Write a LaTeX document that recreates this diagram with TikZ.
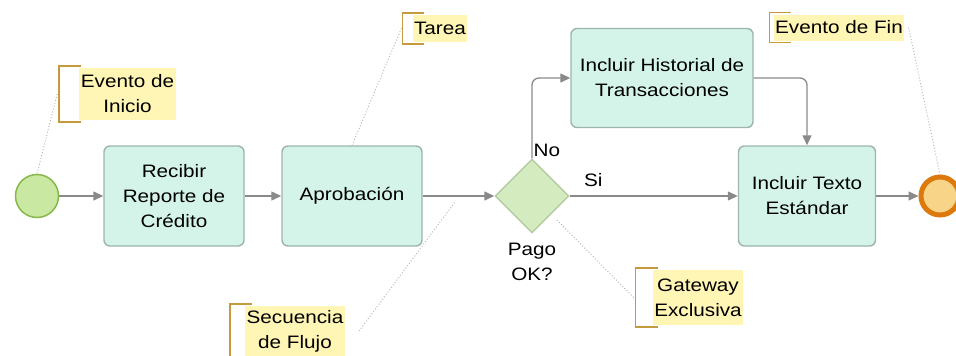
\documentclass[tikz,border=0pt]{standalone}
\usepackage{fontspec}
\setmainfont{Liberation Sans}[FakeStretch=1.15]
\usetikzlibrary{positioning,shapes.geometric,arrows.meta,calc}
\definecolor{taskfill}{HTML}{D4F4EA}
\definecolor{taskline}{HTML}{9DB5AC}
\definecolor{startfill}{HTML}{C9E8A2}
\definecolor{startline}{HTML}{86B94A}
\definecolor{gwfill}{HTML}{D3EBBE}
\definecolor{gwline}{HTML}{B3CCA3}
\definecolor{endline}{HTML}{DD7A0E}
\definecolor{endfill}{HTML}{F8D488}
\definecolor{notefill}{HTML}{FFF5B5}
\definecolor{noteline}{HTML}{C49A3C}
\definecolor{flowgray}{HTML}{8A8A8A}

\begin{document}
\begin{tikzpicture}[x=1pt,y=-1pt,on grid,font=\fontsize{18}{25}\selectfont,
  task/.style={draw=taskline,fill=taskfill,line width=1.4pt,rounded corners=6pt,
    minimum width=140pt,minimum height=100pt,align=center},
  startev/.style={circle,draw=startline,fill=startfill,line width=1.5pt,minimum size=43pt,inner sep=0pt},
  endev/.style={circle,draw=endline,fill=endfill,line width=5pt,minimum size=38pt,inner sep=0pt},
  gateway/.style={diamond,draw=gwline,fill=gwfill,line width=1.4pt,minimum size=74pt,inner sep=0pt},
  flow/.style={-{Triangle[length=10pt,width=9pt]},draw=flowgray,line width=1.3pt},
  note/.style={fill=notefill,align=center,inner xsep=1.5pt,inner ysep=3pt},
  bracket/.style={draw=noteline,line width=1.5pt},
  assoc/.style={draw=gray!55,dotted,line width=1pt},
  lbl/.style={inner sep=1pt}]
   \useasboundingbox (0,0) rectangle (956,356);

   \node[startev] (start) at (37,196) {};
   \node[task] (recibir) [right=137pt of start] {Recibir\\Reporte de\\Crédito};
   \node[task] (aprob) [right=178pt of recibir] {Aprobación};
   \node[gateway] (gw) [right=180pt of aprob] {};
   \node[task,minimum width=137pt] (texto) [right=275pt of gw] {Incluir Texto\\Estándar};
   \node[endev] (fin) [right=133pt of texto] {};
   \node[task,minimum width=182pt,minimum height=99pt] (hist) [above right=118pt and 130pt of gw] {Incluir Historial de\\Transacciones};
   \node[lbl,align=center] (pago) [below=66pt of gw] {Pago\\OK?};

   \draw[flow] (start) -- (recibir);
   \draw[flow] (recibir) -- (aprob);
   \draw[flow] (aprob) -- (gw);
   \draw[flow] (gw.east) -- node[lbl,pos=0.14,above=8pt] {Si} (texto);
   \draw[flow] (texto) -- (fin);
   \draw[flow,rounded corners=7pt] (gw.north) |- node[lbl,pos=0.05,anchor=west] {No} (hist.west);
   \draw[flow,rounded corners=7pt] (hist.east) -| (texto.north);

   % anotaciones
   \node[note,minimum height=52pt] (nIni) at (127.5,94) {Evento de\\Inicio};
   \node[note,minimum height=27pt] (nTar) at (440,28.5) {Tarea};
   \node[note,minimum height=50pt] (nSec) at (295,331) {Secuencia\\de Flujo};
   \node[note,minimum height=55pt] (nGw) at (698,297.5) {Gateway\\Exclusiva};
   \node[note,minimum height=26pt] (nFin) at (839,27.5) {Evento de Fin};
   \foreach \n/\g in {nIni/20,nTar/10,nSec/15,nGw/17,nFin/4}
     \draw[bracket] ($(\n.north west)+(-\g+22,-2)$) -- ++(-22,0) |- ($(\n.south west)+(-\g+22,2)$);

   \coordinate (seq) at ($(aprob.east)!0.45!(gw.west)+(0,6)$);
   \draw[assoc] ([xshift=-22pt]nIni.west) -- (start.north);
   \draw[assoc] ([xshift=-11pt]nTar.west) -- (aprob.north);
   \draw[assoc] ([xshift=14pt]nSec.east) -- (seq);
   \draw[assoc] ([xshift=-19pt]nGw.west) -- ([shift={(5pt,-4pt)}]gw.south east);
   \draw[assoc] ([xshift=4pt]nFin.east) -- (fin.north);
\end{tikzpicture}
\end{document}
